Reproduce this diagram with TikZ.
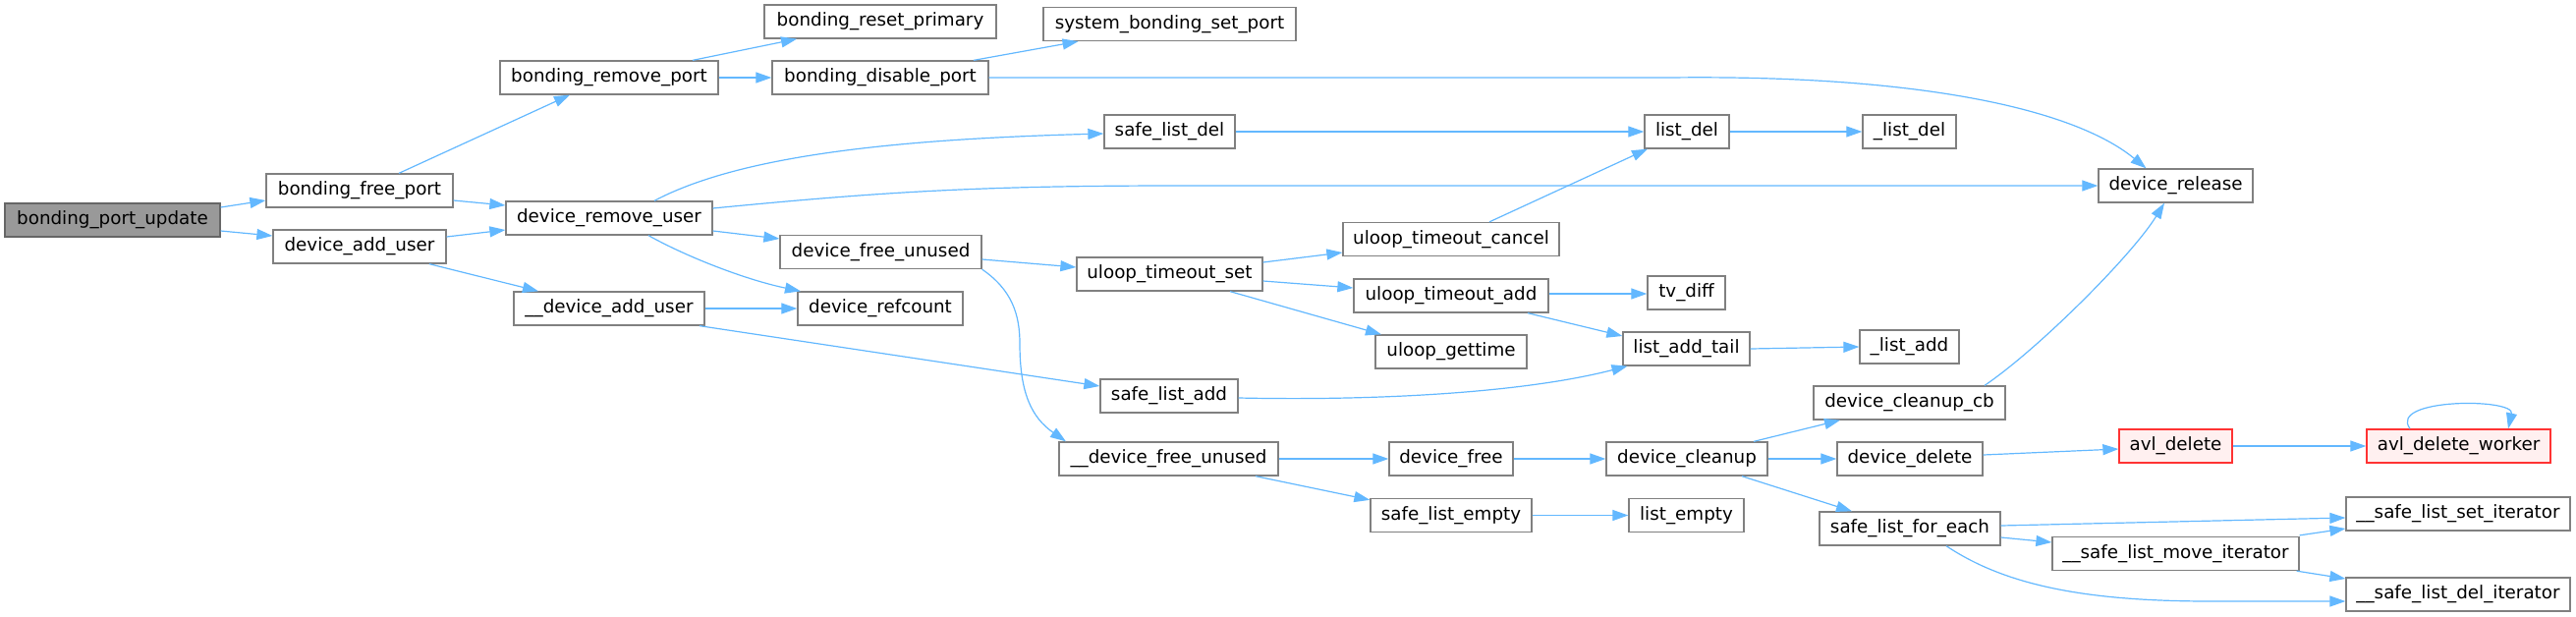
\documentclass[tikz,border=0pt]{standalone}
\usepackage{fontspec}
\setmainfont{DejaVu Sans}
\usetikzlibrary{arrows.meta,calc}
\definecolor{edgec}{HTML}{63B8FF}
\definecolor{nodeb}{HTML}{808080}
\definecolor{rootf}{HTML}{999999}
\definecolor{rootb}{HTML}{666666}
\definecolor{redf}{HTML}{FFF0F0}
\definecolor{redb}{HTML}{FF3333}
\tikzset{
  box/.style={draw=nodeb, fill=white, line width=1.3pt, minimum height=34pt, inner sep=0pt,
    font=\fontsize{18.3}{22}\selectfont, text=black},
  rootbox/.style={box, fill=rootf, draw=rootb},
  redbox/.style={box, fill=redf, draw=redb},
  edge/.style={draw=edgec, line width=1.2pt, -{Triangle[length=16pt,width=11pt]}, fill=none}
}
\begin{document}
\begin{tikzpicture}[x=1pt,y=-1pt]
\useasboundingbox (0,0) rectangle (2622,627);
% nodes
\node[rootbox, minimum width=219pt] (bpu) at (114.5,224) {bonding\_port\_update};
\node[box, minimum width=190pt] (bfp) at (366,194) {bonding\_free\_port};
\node[box, minimum width=176pt] (dau) at (366,251) {device\_add\_user};
\node[box, minimum width=222pt] (brp) at (620,79) {bonding\_remove\_port};
\node[box, minimum width=210pt] (dru) at (620,222) {device\_remove\_user};
\node[box, minimum width=194pt] (udau) at (620,314) {\_\_device\_add\_user};
\node[box, minimum width=236pt] (brpri) at (896,22) {bonding\_reset\_primary};
\node[box, minimum width=220pt] (bdp) at (896,79) {bonding\_disable\_port};
\node[box, minimum width=205pt] (dfu) at (896.5,256.5) {device\_free\_unused};
\node[box, minimum width=168pt] (drf) at (896,314) {device\_refcount};
\node[box, minimum width=257pt] (sbsp) at (1190.5,24.5) {system\_bonding\_set\_port};
\node[box, minimum width=133pt] (sld) at (1190.5,134) {safe\_list\_del};
\node[box, minimum width=189pt] (uts) at (1190.5,279) {uloop\_timeout\_set};
\node[box, minimum width=140pt] (sla) at (1190,403) {safe\_list\_add};
\node[box, minimum width=223pt] (udfu) at (1189.5,467) {\_\_device\_free\_unused};
\node[box, minimum width=220pt] (utc) at (1477,243.5) {uloop\_timeout\_cancel};
\node[box, minimum width=198pt] (uta) at (1477,301) {uloop\_timeout\_add};
\node[box, minimum width=154pt] (ugt) at (1477,358) {uloop\_gettime};
\node[box, minimum width=126pt] (dfree) at (1477,467) {device\_free};
\node[box, minimum width=164pt] (sle) at (1477,524.5) {safe\_list\_empty};
\node[box, minimum width=86pt] (ld) at (1717,134) {list\_del};
\node[box, minimum width=79pt] (tvd) at (1716.5,298) {tv\_diff};
\node[box, minimum width=129pt] (lat) at (1716.5,355) {list\_add\_tail};
\node[box, minimum width=164pt] (dcl) at (1717,467) {device\_cleanup};
\node[box, minimum width=117pt] (le) at (1716.5,524.5) {list\_empty};
\node[box, minimum width=95pt] (uld) at (1943.5,134) {\_list\_del};
\node[box, minimum width=101pt] (ula) at (1943.5,353) {\_list\_add};
\node[box, minimum width=195pt] (dccb) at (1943.5,410) {device\_cleanup\_cb};
\node[box, minimum width=148pt] (ddel) at (1944,467) {device\_delete};
\node[box, minimum width=184pt] (slfe) at (1944,538) {safe\_list\_for\_each};
\node[box, minimum width=157pt] (drel) at (2214.5,189) {device\_release};
\node[redbox, minimum width=115pt] (avld) at (2214.5,454) {avl\_delete};
\node[box, minimum width=251pt] (slmi) at (2214.5,563.5) {\_\_safe\_list\_move\_iterator};
\node[redbox, minimum width=187pt] (avldw) at (2502.5,454) {avl\_delete\_worker};
\node[box, minimum width=228pt] (slsi) at (2502,523) {\_\_safe\_list\_set\_iterator};
\node[box, minimum width=228pt] (sldi) at (2502,605) {\_\_safe\_list\_del\_iterator};
% edges
\draw[edge] ($(bpu.east)+(0,-13)$) -- ($(bfp.west)+(0,10)$);
\draw[edge] ($(bpu.east)+(0,11)$) -- ($(dau.west)+(0,-11)$);
\draw[edge] ($(bfp.north)+(40,0)$) -- ($(brp.south)+(-40,0)$);
\draw[edge] ($(bfp.east)+(0,10)$) -- ($(dru.west)+(0,-13)$);
\draw[edge] ($(dau.east)+(0,-10)$) -- ($(dru.west)+(0,12)$);
\draw[edge] ($(dau.south)+(71,0)$) -- ($(udau.north)+(-72,0)$);
\draw[edge] ($(brp.north)+(85,0)$) -- ($(brpri.south)+(-85,0)$);
\draw[edge] (brp.east) -- (bdp.west);
\draw[edge] ($(bdp.north)+(95,0)$) -- ($(sbsp.south)+(-93,0)$);
\draw[edge] (bdp.east) -- (1700,79) .. controls (1950,76) and (2110,110) .. ($(drel.north)+(-30,0)$);
\draw[edge] ($(dru.north)+(46,0)$) .. controls (750,160) and (900,142) .. ($(sld.west)+(0,2)$);
\draw[edge] ($(dru.east)+(0,-10)$) .. controls (900,195) and (1000,189) .. (1200,189) -- (drel.west);
\draw[edge] ($(dru.east)+(0,13)$) -- ($(dfu.west)+(0,-13.5)$);
\draw[edge] ($(dru.south)+(40,0)$) .. controls (700,262) and (760,285) .. ($(drf.north)+(-81,0)$);
\draw[edge] (udau.east) -- (drf.west);
\draw[edge] ($(udau.south)+(92,0)$) -- ($(sla.west)+(0,-10)$);
\draw[edge] (sld.east) -- (ld.west);
\draw[edge] (ld.east) -- (uld.west);
\draw[edge] ($(dfu.east)+(0,7.5)$) -- ($(uts.west)+(0,-7)$);
\draw[edge] (dfu.south east) .. controls (1030,295) and (1038,320) .. (1038,350) .. controls (1038,400) and (1050,425) .. ($(udfu.north)+(-104.5,0)$);
\draw[edge] ($(uts.east)+(0,-12)$) -- ($(utc.west)+(0,13.5)$);
\draw[edge] ($(uts.east)+(0,7)$) -- ($(uta.west)+(0,-8)$);
\draw[edge] ($(uts.south)+(61.5,0)$) -- ($(ugt.north)+(-71,0)$);
\draw[edge] ($(utc.north)+(39,0)$) -- ($(ld.south)+(-40,0)$);
\draw[edge] ($(uta.east)+(0,-2)$) -- ($(tvd.west)+(0,1)$);
\draw[edge] ($(uta.south)+(78,0)$) -- ($(lat.west)+(0,-13)$);
\draw[edge] (lat.east) -- (ula.west);
\draw[edge] ($(sla.east)+(0,2)$) .. controls (1400,408) and (1550,400) .. ($(lat.south)+(-60,0)$);
\draw[edge] (udfu.east) -- (dfree.west);
\draw[edge] ($(udfu.south)+(88.5,0)$) -- ($(sle.north west)+(0,2)$);
\draw[edge] (dfree.east) -- (dcl.west);
\draw[edge] (sle.east) -- (le.west);
\draw[edge] ($(dcl.north)+(68,0)$) -- ($(dccb.south)+(-70.5,0)$);
\draw[edge] (dcl.east) -- (ddel.west);
\draw[edge] ($(dcl.south)+(56,0)$) -- ($(slfe.north)+(-59,0)$);
\draw[edge] ($(dccb.north)+(76.5,0)$) .. controls (2075,355) and (2170,260) .. ($(drel.south)+(-11.5,0)$);
\draw[edge] ($(ddel.east)+(0,-4)$) -- ($(avld.west)+(0,3)$);
\draw[edge] (avld.east) -- (avldw.west);
\draw[edge] ($(avldw.north)+(-49.5,0)$) .. controls (2430,405) and (2560,405) .. ($(avldw.north)+(50.5,0)$);
\draw[edge] ($(slfe.east)+(0,-3)$) -- ($(slsi.west)+(0,4)$);
\draw[edge] ($(slfe.east)+(0,9)$) -- ($(slmi.west)+(0,-11.5)$);
\draw[edge] ($(slfe.south)+(37,0)$) .. controls (2040,595) and (2120,612) .. (2250,612) -- ($(sldi.west)+(0,7)$);
\draw[edge] ($(slmi.north east)+(0,-1)$) -- ($(slsi.west)+(0,15)$);
\draw[edge] ($(slmi.south east)+(-3,0)$) -- ($(sldi.west)+(0,-16)$);
\end{tikzpicture}
\end{document}
